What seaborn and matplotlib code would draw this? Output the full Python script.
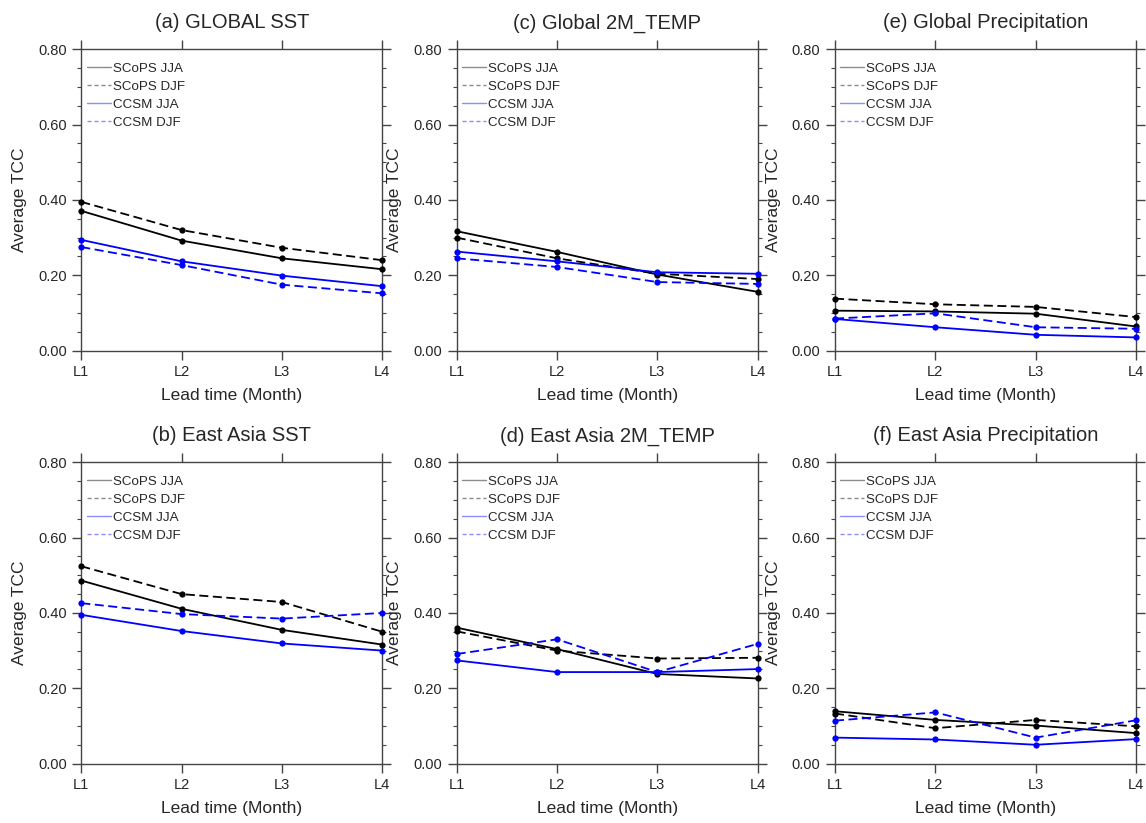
import pandas as pd
import matplotlib
matplotlib.use("Agg")
import matplotlib.pyplot as plt
import seaborn as sns

LEADS = ["L1", "L2", "L3", "L4"]
SERIES = ["SCoPS JJA", "SCoPS DJF", "CCSM JJA", "CCSM DJF"]

# (a) Global SST
global_sst_scops_jja = [0.371, 0.292, 0.245, 0.216]
global_sst_scops_djf = [0.395, 0.320, 0.273, 0.240]
global_sst_ccsm_jja = [0.294, 0.237, 0.199, 0.171]
global_sst_ccsm_djf = [0.275, 0.227, 0.175, 0.152]

# (b) East Asia SST
ea_sst_scops_jja = [0.486, 0.411, 0.355, 0.316]
ea_sst_scops_djf = [0.524, 0.450, 0.429, 0.350]
ea_sst_ccsm_jja = [0.395, 0.352, 0.319, 0.300]
ea_sst_ccsm_djf = [0.426, 0.397, 0.385, 0.400]

# (c) Global 2M_TEMP
global_t2m_scops_jja = [0.317, 0.262, 0.202, 0.156]
global_t2m_scops_djf = [0.300, 0.245, 0.204, 0.190]
global_t2m_ccsm_jja = [0.263, 0.237, 0.208, 0.204]
global_t2m_ccsm_djf = [0.245, 0.222, 0.182, 0.177]

# (d) East Asia 2M_TEMP
ea_t2m_scops_jja = [0.361, 0.304, 0.238, 0.226]
ea_t2m_scops_djf = [0.351, 0.300, 0.279, 0.281]
ea_t2m_ccsm_jja = [0.274, 0.243, 0.243, 0.251]
ea_t2m_ccsm_djf = [0.291, 0.330, 0.243, 0.318]

# (e) Global Precipitation
global_pr_scops_jja = [0.106, 0.104, 0.098, 0.064]
global_pr_scops_djf = [0.138, 0.123, 0.116, 0.089]
global_pr_ccsm_jja = [0.084, 0.062, 0.042, 0.035]
global_pr_ccsm_djf = [0.085, 0.099, 0.062, 0.058]

# (f) East Asia Precipitation
ea_pr_scops_jja = [0.139, 0.116, 0.101, 0.081]
ea_pr_scops_djf = [0.133, 0.094, 0.116, 0.099]
ea_pr_ccsm_jja = [0.069, 0.064, 0.050, 0.065]
ea_pr_ccsm_djf = [0.114, 0.136, 0.069, 0.115]

PANELS = [
    ("(a) GLOBAL SST", [global_sst_scops_jja, global_sst_scops_djf, global_sst_ccsm_jja, global_sst_ccsm_djf]),
    ("(c) Global 2M_TEMP", [global_t2m_scops_jja, global_t2m_scops_djf, global_t2m_ccsm_jja, global_t2m_ccsm_djf]),
    ("(e) Global Precipitation", [global_pr_scops_jja, global_pr_scops_djf, global_pr_ccsm_jja, global_pr_ccsm_djf]),
    ("(b) East Asia SST", [ea_sst_scops_jja, ea_sst_scops_djf, ea_sst_ccsm_jja, ea_sst_ccsm_djf]),
    ("(d) East Asia 2M_TEMP", [ea_t2m_scops_jja, ea_t2m_scops_djf, ea_t2m_ccsm_jja, ea_t2m_ccsm_djf]),
    ("(f) East Asia Precipitation", [ea_pr_scops_jja, ea_pr_scops_djf, ea_pr_ccsm_jja, ea_pr_ccsm_djf]),
]

COLORS = {"SCoPS JJA": "black", "SCoPS DJF": "black", "CCSM JJA": "#0000ff", "CCSM DJF": "#0000ff"}
DASHES = {"SCoPS JJA": "", "SCoPS DJF": (5, 2.5), "CCSM JJA": "", "CCSM DJF": (5, 2.5)}

sns.set_theme(style="ticks")
plt.rcParams["font.family"] = ["Liberation Sans", "DejaVu Sans"]

fig = plt.figure(figsize=(11.46, 8.23), dpi=100)

W, H = 1146, 823
col_lefts = [81.3, 456.7, 835.0]
row_tops = [49.3, 462.3]
ax_w, ax_h = 301.0, 301.3

for i, (title, values) in enumerate(PANELS):
    row, col = i // 3, i % 3
    left = col_lefts[col] / W
    bottom = 1 - (row_tops[row] + ax_h) / H
    ax = fig.add_axes([left, bottom, ax_w / W, ax_h / H])

    df = pd.DataFrame({
        "lead": [j + 1 for _ in SERIES for j in range(len(LEADS))],
        "tcc": [v for vals in values for v in vals],
        "series": [s for s in SERIES for _ in LEADS],
    })

    sns.lineplot(
        data=df, x="lead", y="tcc", hue="series", style="series",
        palette=COLORS, dashes=DASHES, markers={s: "o" for s in SERIES},
        markersize=4.5, markeredgewidth=0, linewidth=1.3,
        legend=False, ax=ax, clip_on=False, zorder=3,
    )

    # legend with short, faint lines like the original
    handles = []
    for s in SERIES:
        h, = ax.plot([], [], color=COLORS[s], linewidth=1.0, alpha=0.45,
                     linestyle="-" if DASHES[s] == "" else (0, (3, 2)))
        handles.append(h)
    ax.legend(handles, SERIES, loc="upper left", frameon=False, fontsize=9.6,
              handlelength=1.8, handletextpad=0.15, labelspacing=0.42,
              borderaxespad=0.0, bbox_to_anchor=(0.0, 0.973))

    ax.set_xlim(1, 4)
    ax.set_ylim(0, 0.8)
    ax.set_xticks(range(1, len(LEADS) + 1))
    ax.set_xticklabels(LEADS)
    ax.set_yticks([0, 0.2, 0.4, 0.6, 0.8])
    ax.set_yticklabels(["0.00", "0.20", "0.40", "0.60", "0.80"])
    ax.set_yticks([k * 0.05 for k in range(17)], minor=True)

    ax.tick_params(axis="both", which="major", direction="out", length=6.5, width=1,
                   color="#444444", labelsize=10.5, pad=4,
                   top=True, right=True)
    ax.tick_params(axis="y", which="minor", direction="out", length=3, width=0.8,
                   color="#444444", left=True, right=True)
    for sp in ax.spines.values():
        sp.set_visible(True)
        sp.set_color("#444444")
        sp.set_linewidth(1.0)

    ax.set_title(title, fontsize=14.5, pad=15)
    ax.set_xlabel("Lead time (Month)", fontsize=12.5, labelpad=6)
    ax.set_ylabel("Average TCC", fontsize=12.5, labelpad=8)

fig.savefig("out.png", dpi=100)
